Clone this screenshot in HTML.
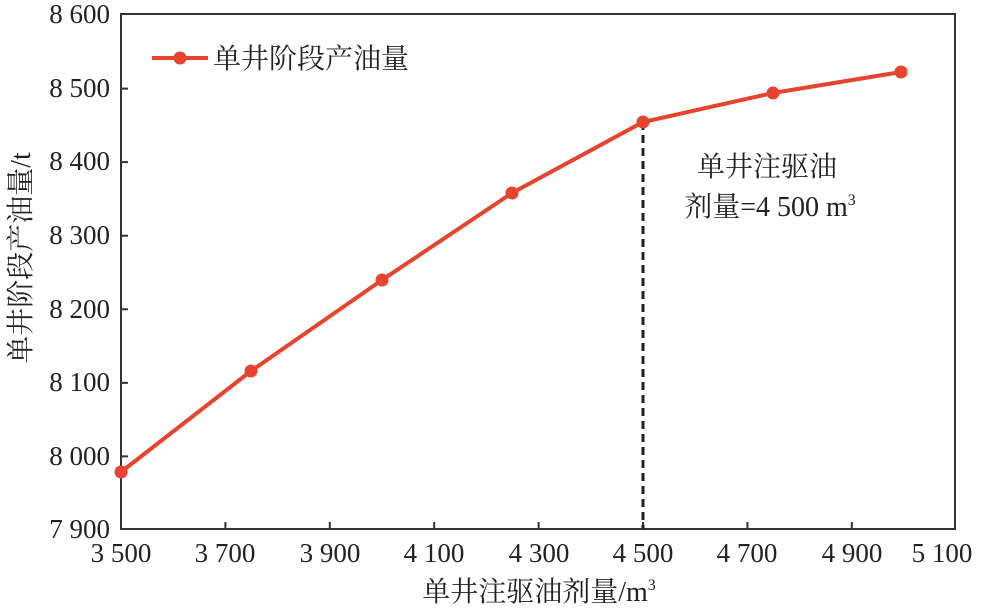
<!DOCTYPE html>
<html><head><meta charset="utf-8"><style>
html,body{margin:0;padding:0;background:#fff;}
svg{display:block;font-family:"Liberation Serif","Noto Serif CJK SC",serif;}
</style></head><body>
<svg width="983" height="611" viewBox="0 0 983 611" xmlns="http://www.w3.org/2000/svg">
<g stroke="#333" stroke-width="2" fill="none">
<rect x="121" y="14" width="834" height="515"/>
<path d="M225.4 529v-7M329.8 529v-7M434.2 529v-7M538.6 529v-7M643 529v-7M747.4 529v-7M851.8 529v-7"/>
<path d="M121 456.4h7M121 382.9h7M121 309.3h7M121 235.7h7M121 162.1h7M121 88.6h7"/>
</g>
<g font-size="27" fill="#222" text-anchor="end">
<text x="110" y="538">7 900</text>
<text x="110" y="465">8 000</text>
<text x="110" y="391">8 100</text>
<text x="110" y="318">8 200</text>
<text x="110" y="244">8 300</text>
<text x="110" y="170">8 400</text>
<text x="110" y="97">8 500</text>
<text x="110" y="23">8 600</text>
</g>
<g font-size="27" fill="#222" text-anchor="middle">
<text x="121" y="562">3 500</text>
<text x="225" y="562">3 700</text>
<text x="330" y="562">3 900</text>
<text x="434" y="562">4 100</text>
<text x="539" y="562">4 300</text>
<text x="643" y="562">4 500</text>
<text x="747" y="562">4 700</text>
<text x="852" y="562">4 900</text>
<text x="942" y="562">5 100</text>
</g>
<text x="539" y="601" font-size="28" fill="#222" text-anchor="middle">单井注驱油剂量/m<tspan font-size="16" dy="-11">3</tspan></text>
<text transform="translate(30 258) rotate(-90)" font-size="28" fill="#222" text-anchor="middle">单井阶段产油量/t</text>
<line x1="643" y1="122" x2="643" y2="529" stroke="#222" stroke-width="3" stroke-dasharray="8,5"/>
<text x="767" y="176" font-size="28" fill="#222" text-anchor="middle">单井注驱油</text>
<text x="770" y="216" font-size="28" fill="#222" text-anchor="middle">剂量=4 500 m<tspan font-size="16" dy="-11">3</tspan></text>
<polyline points="121,472 251,371 382,280 512,193 643,122 773,93 901,72" fill="none" stroke="#e8432e" stroke-width="4"/>
<g fill="#e8432e">
<circle cx="121" cy="472" r="6.5"/><circle cx="251" cy="371" r="6.5"/><circle cx="382" cy="280" r="6.5"/>
<circle cx="512" cy="193" r="6.5"/><circle cx="643" cy="122" r="6.5"/><circle cx="773" cy="93" r="6.5"/><circle cx="901" cy="72" r="6.5"/>
<line x1="152" y1="58" x2="208" y2="58" stroke="#e8432e" stroke-width="4"/>
<circle cx="180" cy="58" r="6.5"/>
</g>
<text x="213" y="68" font-size="28" fill="#222">单井阶段产油量</text>
</svg>
</body></html>
